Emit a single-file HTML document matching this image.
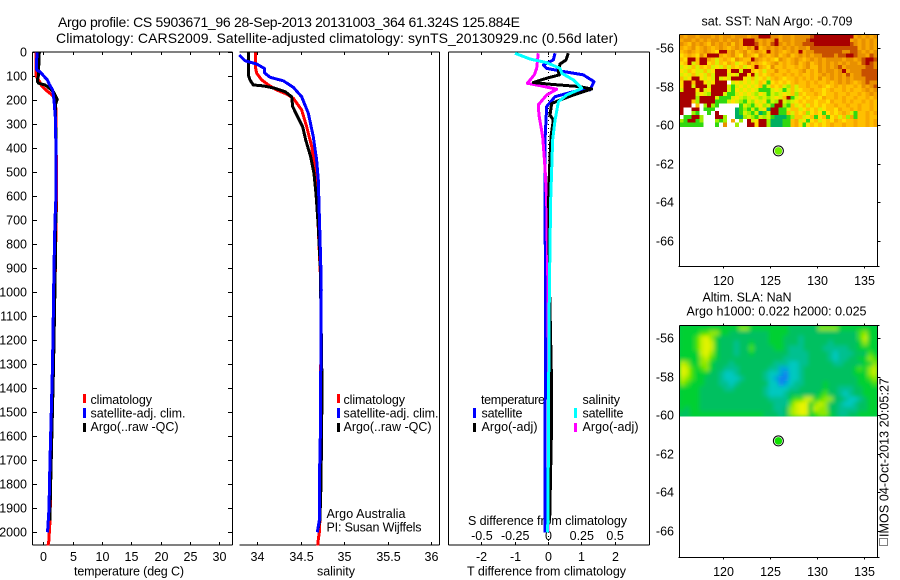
<!DOCTYPE html>
<html>
<head>
<meta charset="utf-8">
<title>Argo profile</title>
<style>
html,body{margin:0;padding:0;background:#fff;}
svg{display:block;font-family:"Liberation Sans",sans-serif;font-size:12.5px;fill:#000;}
.t14{font-size:14px;}
</style>
</head>
<body>
<svg id="fig" xmlns="http://www.w3.org/2000/svg" width="900" height="580" viewBox="0 0 900 580">
<defs>
<filter id="slaSmooth" x="-5%" y="-5%" width="110%" height="110%"><feGaussianBlur stdDeviation="2"/></filter>
<clipPath id="slaClip"><rect x="679.5" y="325.5" width="198" height="91"/></clipPath>
</defs>
<rect x="0" y="0" width="900" height="580" fill="#fff"/>
<text class="t14" x="58" y="27" textLength="462">Argo profile: CS 5903671_96 28-Sep-2013 20131003_364 61.324S 125.884E</text>
<text class="t14" x="56" y="43" textLength="562">Climatology: CARS2009. Satellite-adjusted climatology: synTS_20130929.nc (0.56d later)</text>

<text x="74" y="575.5" textLength="110">temperature (deg C)</text>
<text x="317" y="575.5" textLength="38">salinity</text>
<text x="467" y="575.5" textLength="159">T difference from climatology</text>
<text x="468" y="525" textLength="159">S difference from climatology</text>

<g>
<rect x="83" y="394" width="3" height="9" fill="#f00"/>
<rect x="83" y="408" width="3" height="10" fill="#00f"/>
<rect x="83" y="423" width="3" height="9" fill="#000"/>
<text x="90.5" y="404" textLength="61.5">climatology</text>
<text x="90.5" y="417.5" textLength="95">satellite-adj. clim.</text>
<text x="90.5" y="431" textLength="88">Argo(..raw -QC)</text>
</g>
<g>
<rect x="337" y="394" width="3" height="9" fill="#f00"/>
<rect x="337" y="408" width="3" height="10" fill="#00f"/>
<rect x="337" y="423" width="3" height="9" fill="#000"/>
<text x="343.5" y="404" textLength="61.5">climatology</text>
<text x="343.5" y="417.5" textLength="95">satellite-adj. clim.</text>
<text x="343.5" y="431" textLength="88">Argo(..raw -QC)</text>
<text x="326.5" y="518" textLength="79">Argo Australia</text>
<text x="326.5" y="531.5" textLength="95">PI: Susan Wijffels</text>
</g>
<g>
<text x="481" y="404" textLength="64">temperature</text>
<text x="481.5" y="417.5" textLength="41">satellite</text>
<text x="481.5" y="431" textLength="56">Argo(-adj)</text>
<rect x="473" y="408" width="3" height="10" fill="#00f"/>
<rect x="473" y="423" width="3" height="9" fill="#000"/>
<text x="582.5" y="404" textLength="37.5">salinity</text>
<text x="582.5" y="417.5" textLength="41">satellite</text>
<text x="582.5" y="431" textLength="56">Argo(-adj)</text>
<rect x="574" y="408" width="3" height="10" fill="#0ff"/>
<rect x="574" y="423" width="3" height="9" fill="#f0f"/>
</g>

<text x="701.5" y="25.5" textLength="151">sat. SST: NaN Argo: -0.709</text>
<text x="702.5" y="301.5" textLength="89">Altim. SLA: NaN</text>
<text x="686.5" y="315.5" textLength="180">Argo h1000: 0.022 h2000: 0.025</text>

<text transform="translate(888.5,537) rotate(-90)" x="0" y="0" textLength="159">IMOS 04-Oct-2013 20:05:27</text>
<rect x="879.5" y="538.5" width="8" height="7" fill="none" stroke="#000" stroke-width="1" stroke-dasharray="1 1"/>
</svg>

<script>
// ---------- axis ticks ----------
const depthTicks = [0,100,200,300,400,500,600,700,800,900,1000,1100,1200,1300,1400,1500,1600,1700,1800,1900,2000];
const tempTicks = [0,5,10,15,20,25,30];
const salTicks = [34,34.5,35,35.5,36];
const salTickLabels = ['34','34.5','35','35.5','36'];
const tDiffTicks = [-2,-1,0,1,2];
const tDiffLabels = ['-2','-1','0','1','2'];
const sDiffTicks = [-0.5,-0.25,0,0.25,0.5];
const sDiffLabels = ['-0.5','-0.25','0','0.25','0.5'];
const latTicks = [-56,-58,-60,-62,-64,-66];
const lonTicks = [120,125,130,135];

// ---------- temperature profiles (depth m / deg C) ----------
const climTempDepth = [0,100,120,140,160,180,200,240,600,1000,1500,1950,2000,2030,2055];
const climTemp = [-1.25,-1.2,-0.68,-0.3,0.58,1.6,2.0,2.16,2.25,1.98,1.45,1.15,1.02,0.98,0.8];
const argoTempDepth = [0,100,108,120,129,136,146,164,196,220,400,800,900,1100,1300,1500,1700,1900,1950];
const argoTemp = [-0.68,-0.85,-0.95,-1.02,-0.8,0.29,0.85,1.7,2.38,2.04,2.2,2.1,2.04,1.9,1.75,1.55,1.35,1.15,1.1];
const blueTempDepth = [0,50,74,81,100,115,135,157,199,268,400,600,700,900,1100,1300,1500,1700,1900,1950,2000];
const blueTemp = [-1.07,-1.16,-1.12,-0.56,0.12,0.68,1.06,1.6,1.82,2.04,2.16,2.16,1.99,1.82,1.7,1.57,1.36,1.14,0.97,0.85,0.72];

// ---------- salinity profiles ----------
const climSalDepth = [0,60,87,115,136,157,174,192,240,310,393,518,1000,1950,2000,2030,2055];
const climSal = [33.977,33.977,33.993,34.05,34.127,34.223,34.338,34.415,34.51,34.568,34.626,34.675,34.735,34.72,34.714,34.702,34.695];
const argoSalDepth = [0,94,115,136,140,150,164,185,226,261,310,365,435,504,588,726,893,1400,1800,1950,2000];
const argoSal = [33.897,33.897,33.916,33.954,34.069,34.204,34.319,34.395,34.407,34.453,34.522,34.557,34.614,34.652,34.675,34.702,34.725,34.745,34.733,34.72,34.69];
const blueSalDepth = [11,35,49,67,85,104,119,146,185,254,351,449,532,685,865,990,1400,1600,1800,1950,2000];
const blueSal = [33.793,33.858,33.993,34.081,34.081,34.146,34.3,34.415,34.51,34.587,34.644,34.683,34.702,34.714,34.729,34.736,34.729,34.725,34.714,34.714,34.69];

// ---------- difference profiles ----------
const argoTDiffDepth = [4,32,49,81,94,108,126,133,143,153,178,199,213,261,282,351,504,615,1000,1400,1600,1950];
const argoTDiff = [0.61,0.54,0.36,0.31,0.34,-0.04,-0.44,0.06,0.96,1.31,0.76,0.36,0.11,0.06,0.16,0.09,0.04,0.02,0.05,0.11,0.1,0.05];
const blueTDiffDepth = [4,32,53,67,80,94,122,157,164,185,226,365,615,1100,1400,1600,2000];
const blueTDiff = [0.21,0.16,-0.14,-0.04,0.46,1.06,1.38,1.26,0.76,0.21,-0.04,-0.09,-0.09,-0.07,-0.08,-0.09,-0.09];
const magSDiffDepth = [4,67,94,129,139,154,178,219,261,351,476,615,1000,1500,2000];
const magSDiff = [-0.073,-0.085,-0.103,-0.155,-0.06,0.065,-0.01,-0.073,-0.068,-0.04,-0.023,-0.01,0,0.005,0];
const cyanSDiffDepth = [4,28,43,67,87,115,150,178,206,282,365,615,1000,1380,1950,2000];
const cyanSDiff = [-0.248,-0.135,-0.01,0.09,0.103,0.19,0.253,0.14,0.078,0.053,0.035,0.02,0.01,0.005,0,-0.005];

// ---------- float position ----------
const floatLon = 125.884;
const floatLat = -61.324;

// ---------- SST map cells, north to south ----------
const sstRows = [
"OoOOoOOOoOoOOoOOOoOORRROOoOOoOOOOBRRRRRRRRRRoOoOoO",
"oOOoOoOoOOoOoOOoRRROoOoORoOOoOOOBRRRRRRRRRRoOoOoOo",
"OoYOoOoYOoOoOYOoRRRBoOoBROoOoOOBBBRRRRRRRRRBOoOoOo",
"oYoOYoOoYoOoYoOoYOoRYoOoOoOoOoOOoBBBBBBBBBBBBoOoOo",
"YoOoYoOoYyRRoOYoOYoOoYRoOoYoOoRoOOBBBBBBBOOBBOoOoO",
"yYoYyOYRRRoYoOYyOoYyOoYoOYoOYoOoOoOOBBBOBBRRBOOoBO",
"YyRRYRRoYlYoYyOoYYROoYoYyOoYoOoYoOoOoOOOOoOOoOBRRB",
"yYRlYRRyYlYyoYlyYOYoYyYoOYoYoOYoOYoOoOoOoOoOOoBRBO",
"lylYlYyYlylYlYyYlyYRoYyOYYoYYoYoOYYOoOoOBoOOOOOBBO",
"ylYyllYlyRRRyRRlRRYyYlYYOYYoYYoOYoYOoOOoORoOOOBBBB",
"lylYlylYlRRRlylRRyRlYyYoYYoYoYoYYoYoOoOoOoBoOOBBBB",
"YlyRRylylRlylRRRylYlyYlYoYyYYoYoYoYOYoOoOoOoOOOBBB",
"yRRYRRylyRRRWlylylylYyGyYyYyYoYYoYoYYoYoOoOoYoOBOO",
"yRRlRRRlRRRRlGlylylyYGlYyYlgYlYYoYYoYyYoYoYYoYOoOB",
"lRRRyRlyRRRRlGylylylGGGlylGlYlyYYoYYyYoYYoYoYYoOoO",
"RRRRlylgRRRlGGlylylgylGlglylYgYyYYoYyYYoYYoYYoYoOo",
"RRRRgRRRRlGGGlylglylglglylYRGlyYyYYyoYYoYoYYoYYoYo",
"RRRYgRRRRGGGlylgGlgylyGlgRlglyYyYYyYYyoYYoYoYYoYoY",
"RRRWYWgRgGWWWWWGlgGlyglGRRgGYlyYlYyYyYYoYYoYYoYYoY",
"RWWRRWGGGWWWWWTGgGlGlyTRRGGlYYlyYyYlyYYyoYYoYoYYoY",
"RWWgGWWGWRWWWWTGlgGlTGlRRGGYlYyYgyYyGyYyYoYlGYYoYo",
"WGGRRgWWWRRgWWTTglgGlglGTTTGgYYlyYGyYGyYlYgoGYYoYY",
"gGRRGgWWWgGgWoWgWRlyRRgTTTGGYolyGyYlyYyoYyYYoYYoYo",
"GGGGGGWWWGWOWWgWWRRyRRgTTTGGYoyGyYyYyYoYYoYYoYYoYo"
];

// ---------- SLA map cells, north to south (0 = low, 9 = high) ----------
const slaRows = [
"5555555555557755555555444444777755555555",
"5555667755444444445555444444444444446755",
"5556897544444444445554443444444444446855",
"5556898544434454445554443444443444445755",
"5556898544434464444554333444433333445555",
"5555897544434454444444333344443233344465",
"5555786544444444444443333344443233445576",
"8755775444344444444333223344444334444557",
"9865675443334444443311223444444444456578",
"9865554432234444432210223444444444455578",
"8765544432223444432100223444444444445567",
"7655544433234444442201233444454444445556",
"5555444443344444432222334444454433344555",
"5555444444444444432223444444564432344555",
"5555444444444444443333566885677443223455",
"5555444444444444444333689957874432234455",
"5455444444444444444334789958774433334455",
"4455555555555555544434789956775433445555"
];

const svgNS = 'http://www.w3.org/2000/svg';
const fig = document.getElementById('fig');
const sstColors = {R:'#a80000',B:'#c85000',O:'#e89000',o:'#f8a800',Y:'#ffc000',y:'#ffe000',l:'#d8f000',g:'#a0f000',G:'#30d810',T:'#00b060',W:'#ffffff'};
const slaColors = ['#1080f0','#00a8d8','#00c8c0','#00c090','#00c060','#00d030','#40e000','#90e800','#c8f000','#e8f400'];

// ---------- axis functions ----------
function yDepth(d){return 52.3+d*0.24;}
function xTemp(t){return 43.3+t*5.87;}
function xSal(s){return 257.3+(s-34)*86.9;}
function xTDiff(t){return 548+t*33.3;}
function xSDiff(s){return 548+s*133.2;}
function xLon(lon){return 723.3+(lon-120)*9.36;}
function yLat(lat,y56){return y56+(-56-lat)*19.27;}

function make(tag,attrs,parent){
  const el=document.createElementNS(svgNS,tag);
  for(const k in attrs){el.setAttribute(k,attrs[k]);}
  (parent||fig).appendChild(el);
  return el;
}
function seg(x1,y1,x2,y2,name){
  const el=make('line',{x1:x1,y1:y1,x2:x2,y2:y2,stroke:'#000','stroke-width':1,'shape-rendering':'crispEdges'});
  
  
  return el;
}
function label(x,y,str,anchor,name){
  const el=make('text',{x:x,y:y,'text-anchor':anchor});
  el.textContent=str;
  
  
  return el;
}
function profile(depths,values,xf,color,name){
  let d='';
  for(let i=0;i<depths.length;i++){
    d+=(i?'L':'M')+xf(values[i]).toFixed(2)+' '+yDepth(depths[i]).toFixed(2);
  }
  const el=make('path',{d:d,fill:'none',stroke:color,'stroke-width':3,'stroke-linejoin':'round','shape-rendering':'crispEdges'});
  
  
  return el;
}
function grid(rows,colorOf,x0,y0,w,h,name,parent){
  const rh=h/rows.length;
  rows.forEach(function(row,r){
    const cw=w/row.length;
    for(let c=0;c<row.length;c++){
      const el=make('rect',{x:(x0+c*cw).toFixed(2),y:(y0+r*rh).toFixed(2),width:(cw+0.4).toFixed(2),height:(rh+0.4).toFixed(2),fill:colorOf(row[c]),'shape-rendering':'crispEdges'},parent);
      
      
    }
  });
}

// ---------- frames ----------
const plotTop=52, plotBottom=545;
seg(32.5,plotTop,32.5,plotBottom,'temperature-left-axis');
seg(232.5,plotTop,232.5,plotBottom,'temperature-right-axis');
seg(32.5,plotTop,232.5,plotTop,'temperature-top-axis');
seg(32.5,plotBottom,232.5,plotBottom,'temperature-bottom-axis');
seg(239.5,plotTop,439.5,plotTop,'salinity-top-axis');
seg(239.5,plotBottom,439.5,plotBottom,'salinity-bottom-axis');
seg(439.5,plotTop,439.5,plotBottom,'salinity-right-axis');
seg(448.5,plotTop,448.5,plotBottom,'difference-left-axis');
seg(649.5,plotTop,649.5,plotBottom,'difference-right-axis');
seg(448.5,plotTop,649.5,plotTop,'difference-top-axis');
seg(448.5,plotBottom,649.5,plotBottom,'difference-bottom-axis');

depthTicks.forEach(function(d){
  const y=Math.round(yDepth(d))+0.5;
  seg(32.5,y,37,y,'depth-tick');
  seg(228,y,232.5,y,'depth-tick');
  label(27,y+4,String(d),'end','depth-tick-label');
});
tempTicks.forEach(function(t){
  const x=Math.round(xTemp(t))+0.5;
  seg(x,plotTop,x,plotTop+3,'temperature-tick');
  seg(x,plotBottom-3,x,plotBottom,'temperature-tick');
  label(x,561,String(t),'middle','temperature-tick-label');
});
salTicks.forEach(function(s,i){
  const x=Math.round(xSal(s))+0.5;
  seg(x,plotTop,x,plotTop+3,'salinity-tick');
  seg(x,plotBottom-3,x,plotBottom,'salinity-tick');
  label(x,561,salTickLabels[i],'middle','salinity-tick-label');
});
tDiffTicks.forEach(function(t,i){
  const x=Math.round(xTDiff(t))+0.5;
  seg(x,plotTop,x,plotTop+3,'t-difference-tick');
  seg(x,plotBottom-3,x,plotBottom,'t-difference-tick');
  label(x,561,tDiffLabels[i],'middle','t-difference-tick-label');
});
sDiffTicks.forEach(function(s,i){
  label(xSDiff(s)+0.5,540,sDiffLabels[i],'middle','s-difference-tick-label');
});

// ---------- zero line ----------
const zeroLine=make('line',{x1:548.5,y1:plotTop,x2:548.5,y2:plotBottom,stroke:'#000','stroke-width':1,'stroke-dasharray':'1 3','shape-rendering':'crispEdges'});



// ---------- profile lines ----------
profile(climTempDepth,climTemp,xTemp,'#f00','temperature-climatology-line');
profile(argoTempDepth,argoTemp,xTemp,'#000','temperature-argo-line');
profile(blueTempDepth,blueTemp,xTemp,'#00f','temperature-satellite-line');
profile(climSalDepth,climSal,xSal,'#f00','salinity-climatology-line');
profile(argoSalDepth,argoSal,xSal,'#000','salinity-argo-line');
profile(blueSalDepth,blueSal,xSal,'#00f','salinity-satellite-line');
profile(blueTDiffDepth,blueTDiff,xTDiff,'#00f','t-difference-satellite-line');
profile(magSDiffDepth,magSDiff,xSDiff,'#f0f','s-difference-argo-line');
profile(argoTDiffDepth,argoTDiff,xTDiff,'#000','t-difference-argo-line');
profile(cyanSDiffDepth,cyanSDiff,xSDiff,'#0ff','s-difference-satellite-line');

// ---------- maps ----------
function mapAxes(y56,topY,bottomY,dotColor,prefix){
  const L=679.5,R=877.5;
  seg(L,topY,L,bottomY,prefix+'-left-axis');
  seg(R,topY,R,bottomY,prefix+'-right-axis');
  seg(L,topY,R+2,topY,prefix+'-top-axis');
  seg(L-1,bottomY,R+2,bottomY,prefix+'-bottom-axis');
  latTicks.forEach(function(lat){
    const y=Math.round(yLat(lat,y56))+0.5;
    seg(R,y,R+3,y,prefix+'-lat-tick');
    label(674,y+4,String(lat),'end',prefix+'-lat-tick-label');
  });
  lonTicks.forEach(function(lon){
    const x=Math.round(xLon(lon))+0.5;
    seg(x,topY-2,x,topY,prefix+'-lon-tick');
    seg(x,bottomY,x,bottomY+2,prefix+'-lon-tick');
    label(x,bottomY+18.5,String(lon),'middle',prefix+'-lon-tick-label');
  });
  const ring=make('circle',{cx:xLon(floatLon),cy:yLat(floatLat,y56),r:5,fill:'#fff',stroke:'#000','stroke-width':1});
  
  
  const dot=make('circle',{cx:xLon(floatLon),cy:yLat(floatLat,y56),r:3.8,fill:dotColor});
  
  
}
grid(sstRows,function(ch){return sstColors[ch];},679.5,34.5,198,92,'sst-cell');
mapAxes(48.3,34.5,266.5,'#70f000','sst-map');

const slaClipGroup=make('g',{'clip-path':'url(#slaClip)'});


const slaBacking=make('rect',{x:679.5,y:325.5,width:198,height:91,fill:'#00c858'},slaClipGroup);


const slaBlurGroup=make('g',{filter:'url(#slaSmooth)'},slaClipGroup);


grid(slaRows,function(ch){return slaColors[+ch];},679.5,325.5,198,91,'sla-cell',slaBlurGroup);
mapAxes(338.3,325.5,557.5,'#10e000','sla-map');
</script>
</body>
</html>
